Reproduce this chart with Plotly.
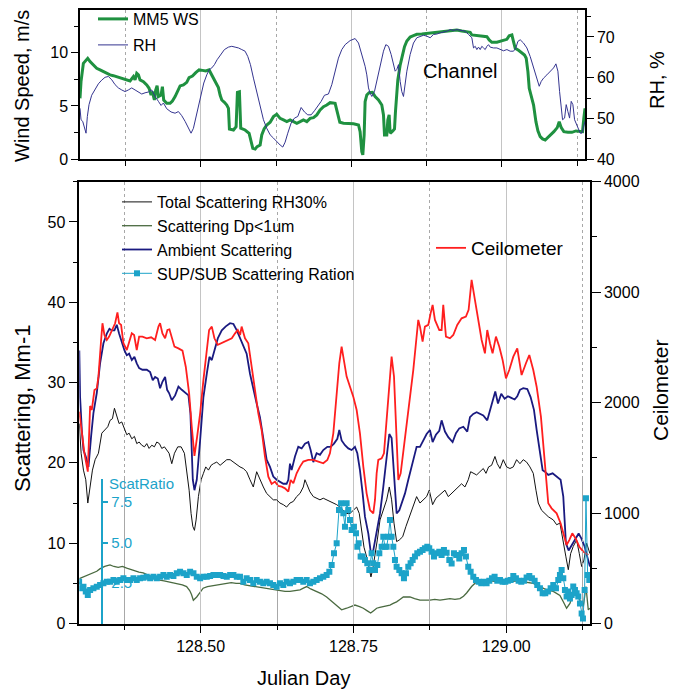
import plotly.graph_objects as go

# ---------------- data (Julian day, value) ----------------
ceil_pts = [
    (128.3014, 1917), (128.3055, 1751), (128.3098, 1540), (128.3153, 1374), (128.3191, 1969),
    (128.3218, 1932), (128.3262, 2113), (128.3300, 2128), (128.3327, 2234), (128.3371, 2566),
    (128.3393, 2717), (128.3425, 2611), (128.3464, 2566), (128.3502, 2596), (128.3545, 2656),
    (128.3600, 2717), (128.3638, 2816), (128.3665, 2717), (128.3698, 2702), (128.3736, 2536),
    (128.3791, 2475), (128.3829, 2551), (128.3873, 2626), (128.3911, 2611), (128.3954, 2475),
    (128.3993, 2596), (128.4047, 2596), (128.4118, 2581), (128.4189, 2590), (128.4254, 2566),
    (128.4309, 2687), (128.4336, 2717), (128.4374, 2626), (128.4418, 2581), (128.4456, 2656),
    (128.4489, 2662), (128.4527, 2581), (128.4571, 2505), (128.4636, 2490), (128.4702, 2469),
    (128.4756, 2324), (128.4811, 2083), (128.4854, 1781), (128.4898, 1516), (128.4942, 1691),
    (128.4991, 1902), (128.5045, 2204), (128.5100, 2445), (128.5138, 2656), (128.5182, 2687),
    (128.5225, 2581), (128.5280, 2521), (128.5345, 2536), (128.5400, 2551), (128.5465, 2566),
    (128.5509, 2581), (128.5563, 2626), (128.5607, 2656), (128.5645, 2611), (128.5670, 2687),
    (128.5725, 2581), (128.5779, 2535), (128.5834, 2324), (128.5888, 2113), (128.5943, 1902),
    (128.5997, 1751), (128.6052, 1510), (128.6107, 1329), (128.6161, 1263), (128.6216, 1284),
    (128.6270, 1245), (128.6325, 1238), (128.6379, 1223), (128.6434, 1193), (128.6472, 1299),
    (128.6516, 1269), (128.6570, 1359), (128.6625, 1420), (128.6679, 1465), (128.6761, 1480),
    (128.6843, 1480), (128.6925, 1465), (128.7006, 1450), (128.7072, 1480), (128.7115, 1540),
    (128.7170, 1721), (128.7225, 2083), (128.7268, 2355), (128.7306, 2505), (128.7345, 2355),
    (128.7388, 2234), (128.7443, 2143), (128.7497, 2053), (128.7552, 1932), (128.7606, 1721),
    (128.7661, 1420), (128.7715, 1178), (128.7770, 1027), (128.7824, 997), (128.7852, 1118),
    (128.7879, 1359), (128.7906, 1480), (128.7961, 1495), (128.7999, 1540), (128.8043, 1842),
    (128.8086, 2113), (128.8124, 2415), (128.8163, 2234), (128.8195, 1842), (128.8234, 1299),
    (128.8272, 1359), (128.8326, 1600), (128.8397, 1902), (128.8479, 2295), (128.8522, 2536),
    (128.8560, 2747), (128.8588, 2687), (128.8631, 2551), (128.8669, 2687), (128.8724, 2702),
    (128.8762, 2807), (128.8795, 2883), (128.8833, 2747), (128.8904, 2656), (128.8942, 2656),
    (128.8969, 2883), (128.9013, 2596), (128.9078, 2581), (128.9133, 2611), (128.9198, 2702),
    (128.9269, 2762), (128.9340, 2777), (128.9384, 2838), (128.9433, 3109), (128.9487, 2928),
    (128.9542, 2747), (128.9597, 2566), (128.9651, 2445), (128.9689, 2656), (128.9733, 2536),
    (128.9776, 2445), (128.9831, 2596), (128.9886, 2505), (128.9940, 2385), (128.9995, 2219),
    (129.0049, 2294), (129.0115, 2415), (129.0180, 2490), (129.0251, 2249), (129.0322, 2355),
    (129.0377, 2430), (129.0442, 2294), (129.0497, 2143), (129.0567, 1872), (129.0633, 1450),
    (129.0687, 1088), (129.0742, 1042), (129.0824, 997), (129.0889, 907), (129.0933, 816),
    (129.0987, 710), (129.1031, 755), (129.1080, 816), (129.1135, 770), (129.1195, 695),
    (129.1260, 650), (129.1342, 620),
]

amb_pts = [
    (128.3014, 34.0), (128.3027, 28.2), (128.3055, 24.1), (128.3082, 21.6), (128.3120, 20.8),
    (128.3164, 19.5), (128.3207, 23.3), (128.3245, 26.2), (128.3300, 28.7), (128.3354, 32.4),
    (128.3409, 34.9), (128.3464, 36.1), (128.3507, 36.7), (128.3545, 36.5), (128.3589, 36.5),
    (128.3627, 37.2), (128.3665, 36.1), (128.3709, 34.9), (128.3753, 34.0), (128.3791, 33.4),
    (128.3829, 33.6), (128.3873, 32.8), (128.3916, 33.2), (128.3954, 32.4), (128.3993, 31.8),
    (128.4047, 31.6), (128.4118, 31.6), (128.4173, 31.3), (128.4216, 30.3), (128.4254, 30.7),
    (128.4298, 30.5), (128.4336, 29.3), (128.4374, 30.1), (128.4418, 30.7), (128.4451, 29.1),
    (128.4483, 28.7), (128.4527, 27.8), (128.4582, 28.4), (128.4636, 29.5), (128.4691, 29.1),
    (128.4756, 28.7), (128.4800, 28.4), (128.4832, 26.2), (128.4854, 22.0), (128.4871, 17.9),
    (128.4898, 16.6), (128.4936, 17.9), (128.4991, 22.8), (128.5045, 28.2), (128.5100, 31.1),
    (128.5143, 33.2), (128.5182, 32.8), (128.5225, 34.0), (128.5280, 35.5), (128.5345, 36.5),
    (128.5411, 37.0), (128.5481, 37.4), (128.5536, 37.3), (128.5591, 36.5), (128.5643, 35.5),
    (128.5698, 34.5), (128.5752, 33.6), (128.5807, 31.1), (128.5861, 29.1), (128.5916, 27.4),
    (128.5970, 25.7), (128.6025, 22.8), (128.6079, 20.4), (128.6134, 19.5), (128.6188, 18.3),
    (128.6243, 17.9), (128.6297, 17.7), (128.6352, 17.4), (128.6406, 17.4), (128.6434, 17.9),
    (128.6461, 19.9), (128.6488, 19.1), (128.6543, 20.8), (128.6597, 22.0), (128.6652, 21.8),
    (128.6706, 22.4), (128.6761, 22.6), (128.6799, 21.6), (128.6843, 20.1), (128.6897, 21.2),
    (128.6952, 21.0), (128.7006, 21.6), (128.7072, 22.0), (128.7126, 22.0), (128.7181, 22.4),
    (128.7236, 23.0), (128.7268, 24.1), (128.7306, 22.8), (128.7361, 22.2), (128.7415, 21.8),
    (128.7470, 21.6), (128.7524, 22.0), (128.7563, 21.2), (128.7606, 19.1), (128.7650, 16.2),
    (128.7688, 13.3), (128.7743, 11.2), (128.7786, 8.7), (128.7824, 9.1), (128.7879, 11.2),
    (128.7934, 13.7), (128.7988, 17.0), (128.8043, 20.4), (128.8086, 23.6), (128.8124, 23.1),
    (128.8163, 19.1), (128.8206, 13.7), (128.8250, 14.1), (128.8288, 15.0), (128.8343, 16.2),
    (128.8397, 17.9), (128.8452, 19.5), (128.8533, 22.0), (128.8588, 22.0), (128.8642, 22.8),
    (128.8697, 23.6), (128.8751, 24.1), (128.8795, 22.6), (128.8849, 23.5), (128.8904, 24.0),
    (128.8942, 25.3), (128.8997, 23.9), (128.9051, 23.2), (128.9122, 22.6), (128.9177, 23.7),
    (128.9231, 24.3), (128.9297, 24.5), (128.9362, 23.9), (128.9406, 25.7), (128.9460, 26.1),
    (128.9515, 26.3), (128.9569, 26.1), (128.9624, 25.9), (128.9689, 25.3), (128.9733, 26.6),
    (128.9776, 27.6), (128.9820, 28.9), (128.9864, 27.4), (128.9918, 28.6), (128.9973, 28.0),
    (129.0027, 28.3), (129.0082, 28.1), (129.0137, 27.9), (129.0180, 28.3), (129.0224, 29.1),
    (129.0278, 29.3), (129.0344, 29.2), (129.0398, 28.2), (129.0453, 26.6), (129.0497, 24.1),
    (129.0551, 21.6), (129.0595, 19.1), (129.0633, 18.9), (129.0687, 18.5), (129.0758, 18.7),
    (129.0824, 18.3), (129.0889, 17.9), (129.0933, 15.8), (129.0976, 10.0), (129.1020, 9.1),
    (129.1075, 9.8), (129.1129, 10.4), (129.1184, 11.2), (129.1228, 10.6), (129.1282, 9.6),
    (129.1326, 8.3), (129.1369, 7.1),
]

tot_pts = [
    (128.3014, 24.9), (128.3044, 21.2), (128.3082, 19.1), (128.3120, 17.9), (128.3153, 15.0),
    (128.3191, 17.0), (128.3229, 19.1), (128.3273, 20.4), (128.3327, 21.2), (128.3382, 23.7),
    (128.3436, 24.1), (128.3480, 24.5), (128.3518, 25.3), (128.3556, 25.5), (128.3589, 26.8),
    (128.3627, 25.7), (128.3665, 24.9), (128.3709, 25.1), (128.3753, 24.3), (128.3791, 23.5),
    (128.3829, 23.7), (128.3873, 23.0), (128.3916, 23.3), (128.3954, 22.4), (128.3993, 22.6),
    (128.4036, 22.2), (128.4080, 22.0), (128.4118, 22.4), (128.4156, 21.8), (128.4200, 22.2),
    (128.4243, 22.0), (128.4282, 22.6), (128.4325, 22.4), (128.4363, 21.8), (128.4407, 22.0),
    (128.4445, 21.6), (128.4483, 21.2), (128.4527, 19.9), (128.4571, 21.2), (128.4625, 22.0),
    (128.4680, 22.0), (128.4734, 21.2), (128.4772, 19.1), (128.4811, 16.6), (128.4843, 13.7),
    (128.4871, 12.1), (128.4898, 11.6), (128.4925, 12.9), (128.4963, 15.8), (128.5007, 17.9),
    (128.5045, 18.7), (128.5083, 19.5), (128.5127, 19.1), (128.5171, 19.7), (128.5209, 19.9),
    (128.5263, 20.1), (128.5318, 19.7), (128.5373, 20.1), (128.5427, 20.4), (128.5482, 20.4),
    (128.5536, 20.1), (128.5591, 19.7), (128.5643, 19.5), (128.5698, 19.3), (128.5752, 18.9),
    (128.5807, 17.9), (128.5861, 17.0), (128.5916, 18.9), (128.5970, 17.9), (128.6025, 17.0),
    (128.6079, 16.2), (128.6134, 15.8), (128.6188, 15.4), (128.6243, 15.4), (128.6297, 15.0),
    (128.6352, 14.8), (128.6406, 14.5), (128.6461, 15.0), (128.6516, 15.2), (128.6570, 15.8),
    (128.6625, 16.2), (128.6679, 17.0), (128.6706, 17.9), (128.6734, 17.4), (128.6788, 16.4),
    (128.6843, 15.8), (128.6897, 15.6), (128.6952, 15.4), (128.7006, 15.6), (128.7061, 15.4),
    (128.7115, 15.2), (128.7170, 15.0), (128.7225, 14.8), (128.7279, 14.5), (128.7334, 14.1),
    (128.7388, 13.7), (128.7443, 13.7), (128.7497, 14.1), (128.7552, 14.5), (128.7595, 13.7),
    (128.7634, 11.6), (128.7672, 9.5), (128.7715, 8.3), (128.7759, 6.7), (128.7786, 5.8),
    (128.7814, 6.7), (128.7852, 8.3), (128.7890, 10.4), (128.7934, 12.9), (128.7988, 14.1),
    (128.8043, 15.4), (128.8086, 17.0), (128.8124, 15.4), (128.8163, 12.5), (128.8206, 10.2),
    (128.8250, 10.4), (128.8305, 10.8), (128.8359, 12.1), (128.8414, 13.3), (128.8468, 14.5),
    (128.8533, 15.8), (128.8588, 15.0), (128.8642, 15.4), (128.8697, 15.8), (128.8740, 16.6),
    (128.8795, 14.8), (128.8849, 15.6), (128.8904, 16.0), (128.8958, 16.4), (128.8997, 16.6),
    (128.9051, 15.8), (128.9106, 16.2), (128.9160, 16.6), (128.9215, 17.0), (128.9269, 17.4),
    (128.9324, 17.0), (128.9378, 17.9), (128.9417, 18.9), (128.9471, 18.7), (128.9515, 18.5),
    (128.9569, 18.9), (128.9624, 19.3), (128.9668, 18.7), (128.9711, 19.5), (128.9760, 19.7),
    (128.9815, 20.8), (128.9853, 19.9), (128.9897, 19.3), (128.9951, 20.4), (129.0006, 19.5),
    (129.0060, 19.3), (129.0115, 19.5), (129.0169, 20.4), (129.0224, 19.9), (129.0278, 20.4),
    (129.0333, 20.1), (129.0387, 19.5), (129.0442, 18.7), (129.0486, 16.6), (129.0524, 15.0),
    (129.0578, 14.1), (129.0633, 13.7), (129.0687, 13.3), (129.0769, 12.9), (129.0824, 12.3),
    (129.0878, 12.5), (129.0933, 10.4), (129.0976, 8.3), (129.1015, 6.7), (129.1053, 8.7),
    (129.1096, 9.6), (129.1151, 10.4), (129.1195, 8.7), (129.1233, 7.1), (129.1271, 7.9),
    (129.1315, 10.0), (129.1369, 8.7),
]

fine_pts = [
    (128.3014, 5.6), (128.3100, 5.9), (128.3180, 6.1), (128.3243, 6.3), (128.3300, 6.5),
    (128.3350, 6.8), (128.3430, 7.1), (128.3516, 7.3), (128.3580, 7.1), (128.3650, 7.0),
    (128.3720, 7.1), (128.3790, 6.9), (128.3860, 6.7), (128.3920, 6.6), (128.3990, 6.4),
    (128.4060, 6.3), (128.4130, 6.0), (128.4200, 5.8), (128.4270, 5.6), (128.4330, 5.4),
    (128.4400, 5.3), (128.4470, 5.2), (128.4540, 5.1), (128.4610, 5.0), (128.4700, 4.8),
    (128.4770, 4.6), (128.4820, 4.1), (128.4850, 3.6), (128.4880, 2.9), (128.4935, 3.3),
    (128.4990, 3.9), (128.5040, 4.4), (128.5110, 4.6), (128.5180, 4.7), (128.5250, 4.8),
    (128.5320, 4.9), (128.5400, 5.0), (128.5500, 5.1), (128.5580, 5.0), (128.5643, 5.0),
    (128.5720, 4.8), (128.5807, 4.7), (128.5890, 4.6), (128.5970, 4.5), (128.6080, 4.3),
    (128.6188, 4.2), (128.6300, 4.1), (128.6380, 4.0), (128.6461, 4.0), (128.6540, 4.1),
    (128.6625, 4.2), (128.6680, 4.4), (128.6734, 4.6), (128.6800, 4.3), (128.6897, 4.0),
    (128.6980, 3.7), (128.7061, 3.3), (128.7140, 2.8), (128.7225, 2.3), (128.7270, 2.0),
    (128.7306, 1.7), (128.7388, 1.9), (128.7460, 2.1), (128.7524, 2.3), (128.7600, 2.1),
    (128.7661, 1.9), (128.7720, 1.6), (128.7781, 1.3), (128.7830, 1.6), (128.7879, 1.9),
    (128.7930, 2.0), (128.7988, 2.1), (128.8040, 2.2), (128.8097, 2.3), (128.8150, 2.5),
    (128.8206, 2.7), (128.8260, 3.0), (128.8315, 3.3), (128.8370, 3.3), (128.8424, 3.3),
    (128.8500, 3.1), (128.8588, 2.9), (128.8670, 2.9), (128.8751, 2.9), (128.8830, 3.0),
    (128.8915, 2.9), (128.9000, 3.0), (128.9078, 3.1), (128.9160, 3.0), (128.9242, 3.1),
    (128.9300, 3.4), (128.9351, 3.8), (128.9433, 4.6), (128.9515, 5.2), (128.9600, 5.1),
    (128.9678, 5.2), (128.9760, 5.3), (128.9842, 5.2), (128.9950, 5.3), (129.0060, 5.2),
    (129.0170, 5.3), (129.0278, 5.2), (129.0360, 5.1), (129.0442, 5.0), (129.0551, 4.6),
    (129.0660, 4.2), (129.0769, 4.0), (129.0878, 3.5), (129.0933, 2.7), (129.0987, 1.9),
    (129.1042, 2.5), (129.1096, 3.8), (129.1151, 4.0), (129.1206, 2.9), (129.1260, 2.1),
    (129.1304, 4.6), (129.1342, 1.7), (129.1369, 1.9),
]

ratio_pts = [
    (128.3011, 2.58), (128.3044, 2.17), (128.3082, 2.27), (128.3120, 1.97), (128.3153, 1.76),
    (128.3191, 2.07), (128.3245, 2.17), (128.3300, 2.27), (128.3354, 2.38), (128.3409, 2.48),
    (128.3464, 2.58), (128.3518, 2.58), (128.3573, 2.69), (128.3627, 2.58), (128.3682, 2.69),
    (128.3736, 2.79), (128.3791, 2.69), (128.3845, 2.69), (128.3900, 2.79), (128.3954, 2.69),
    (128.4009, 2.79), (128.4063, 2.83), (128.4118, 2.89), (128.4173, 2.79), (128.4227, 2.89),
    (128.4282, 2.79), (128.4336, 2.89), (128.4391, 2.99), (128.4445, 2.89), (128.4500, 2.99),
    (128.4554, 2.93), (128.4609, 3.10), (128.4663, 3.20), (128.4718, 3.10), (128.4772, 2.99),
    (128.4827, 3.20), (128.4882, 3.10), (128.4936, 2.89), (128.4991, 2.79), (128.5045, 2.89),
    (128.5100, 2.89), (128.5154, 2.93), (128.5209, 2.99), (128.5263, 2.99), (128.5318, 2.99),
    (128.5373, 2.93), (128.5427, 2.89), (128.5482, 2.99), (128.5536, 2.99), (128.5591, 2.89),
    (128.5643, 2.89), (128.5698, 2.58), (128.5752, 2.79), (128.5807, 2.69), (128.5861, 2.48),
    (128.5916, 2.69), (128.5970, 2.58), (128.6025, 2.48), (128.6079, 2.58), (128.6134, 2.48),
    (128.6188, 2.38), (128.6243, 2.27), (128.6297, 2.48), (128.6352, 2.38), (128.6406, 2.58),
    (128.6461, 2.48), (128.6516, 2.58), (128.6570, 2.69), (128.6625, 2.69), (128.6679, 2.58),
    (128.6734, 2.69), (128.6788, 2.48), (128.6843, 2.58), (128.6897, 2.69), (128.6952, 2.79),
    (128.7006, 2.89), (128.7061, 2.99), (128.7105, 3.20), (128.7143, 3.61), (128.7181, 4.33),
    (128.7225, 4.95), (128.7263, 7.01), (128.7296, 7.42), (128.7334, 6.80), (128.7361, 5.98),
    (128.7388, 7.42), (128.7415, 7.01), (128.7443, 6.39), (128.7470, 5.77), (128.7508, 5.98),
    (128.7541, 5.57), (128.7563, 4.74), (128.7585, 4.95), (128.7617, 4.13), (128.7650, 4.13),
    (128.7688, 3.92), (128.7726, 3.72), (128.7759, 3.30), (128.7797, 4.33), (128.7824, 3.72),
    (128.7852, 3.30), (128.7890, 3.61), (128.7923, 4.33), (128.7961, 4.74), (128.7988, 5.36),
    (128.8015, 4.74), (128.8043, 4.74), (128.8070, 5.36), (128.8097, 6.39), (128.8124, 5.36),
    (128.8152, 4.74), (128.8179, 3.92), (128.8206, 3.51), (128.8250, 3.30), (128.8288, 3.10),
    (128.8326, 2.79), (128.8359, 3.10), (128.8397, 3.51), (128.8435, 3.72), (128.8468, 3.92),
    (128.8506, 4.13), (128.8544, 4.33), (128.8588, 4.43), (128.8631, 4.54), (128.8669, 4.64),
    (128.8708, 4.74), (128.8740, 4.64), (128.8778, 4.43), (128.8817, 4.13), (128.8860, 4.33),
    (128.8904, 4.43), (128.8942, 4.23), (128.8980, 4.54), (128.9024, 4.37), (128.9068, 3.92),
    (128.9106, 3.71), (128.9144, 4.33), (128.9188, 4.23), (128.9231, 4.02), (128.9269, 4.33),
    (128.9308, 4.54), (128.9340, 4.13), (128.9378, 3.51), (128.9417, 3.20), (128.9460, 2.89),
    (128.9504, 2.69), (128.9548, 2.58), (128.9591, 2.48), (128.9635, 2.58), (128.9678, 2.48),
    (128.9722, 2.64), (128.9766, 2.79), (128.9809, 2.89), (128.9853, 2.64), (128.9897, 2.69),
    (128.9940, 2.58), (128.9984, 2.58), (129.0027, 2.64), (129.0071, 2.69), (129.0115, 2.93),
    (129.0158, 2.79), (129.0202, 2.64), (129.0246, 2.58), (129.0289, 2.64), (129.0333, 2.84),
    (129.0377, 2.93), (129.0420, 2.79), (129.0464, 2.64), (129.0507, 2.38), (129.0551, 2.17),
    (129.0595, 1.86), (129.0638, 1.86), (129.0682, 1.97), (129.0726, 2.17), (129.0769, 2.38),
    (129.0813, 2.17), (129.0851, 2.69), (129.0878, 2.99), (129.0906, 3.30), (129.0933, 2.79),
    (129.0960, 2.07), (129.0987, 1.66), (129.1015, 1.97), (129.1042, 1.55), (129.1069, 1.76),
    (129.1096, 2.28), (129.1124, 2.07), (129.1151, 1.86), (129.1178, 1.66), (129.1206, 1.24),
    (129.1233, 0.62), (129.1255, 0.31), (129.1282, 2.07), (129.1304, 7.73), (129.1331, 2.99),
    (129.1358, 2.69),
]

ws_pts = [
    (128.2995, 5.72), (128.3012, 7.28), (128.3051, 9.00), (128.3090, 9.31), (128.3123, 9.47),
    (128.3162, 9.16), (128.3217, 8.84), (128.3272, 8.53), (128.3328, 8.38), (128.3383, 8.22),
    (128.3439, 8.06), (128.3494, 7.91), (128.3549, 7.84), (128.3605, 7.75), (128.3660, 7.66),
    (128.3715, 7.53), (128.3771, 7.44), (128.3826, 7.34), (128.3882, 7.75), (128.3909, 7.44),
    (128.3937, 8.06), (128.3965, 7.91), (128.3992, 7.44), (128.4048, 7.28), (128.4103, 6.97),
    (128.4142, 6.66), (128.4175, 6.03), (128.4197, 6.34), (128.4230, 5.56), (128.4252, 6.50),
    (128.4275, 6.91), (128.4297, 5.88), (128.4341, 6.03), (128.4363, 6.81), (128.4385, 5.56),
    (128.4435, 5.25), (128.4491, 5.25), (128.4529, 5.47), (128.4574, 5.88), (128.4618, 6.34),
    (128.4657, 6.88), (128.4712, 6.97), (128.4767, 7.22), (128.4806, 7.66), (128.4862, 7.81),
    (128.4917, 8.13), (128.4972, 8.38), (128.5028, 8.34), (128.5083, 8.28), (128.5138, 8.38),
    (128.5183, 7.91), (128.5227, 7.44), (128.5266, 6.97), (128.5293, 6.72), (128.5321, 6.03),
    (128.5349, 5.56), (128.5393, 5.34), (128.5432, 5.09), (128.5460, 4.78), (128.5476, 2.84),
    (128.5543, 2.75), (128.5587, 3.06), (128.5609, 6.28), (128.5642, 6.34), (128.5664, 2.91),
    (128.5736, 2.75), (128.5803, 2.44), (128.5836, 1.81), (128.5864, 1.03), (128.5903, 0.97),
    (128.5936, 1.19), (128.5986, 1.34), (128.6013, 2.28), (128.6052, 2.84), (128.6096, 3.22),
    (128.6152, 3.47), (128.6207, 4.00), (128.6262, 4.22), (128.6318, 3.84), (128.6373, 3.69),
    (128.6429, 3.53), (128.6484, 3.69), (128.6539, 3.53), (128.6595, 3.38), (128.6650, 3.53),
    (128.6705, 3.69), (128.6761, 3.53), (128.6816, 3.84), (128.6872, 3.91), (128.6927, 4.16),
    (128.6982, 4.63), (128.7038, 4.94), (128.7093, 5.09), (128.7148, 5.31), (128.7231, 5.25),
    (128.7275, 4.16), (128.7309, 3.47), (128.7370, 3.38), (128.7453, 3.38), (128.7536, 3.34),
    (128.7619, 3.22), (128.7646, 2.59), (128.7674, 0.72), (128.7691, 0.41), (128.7713, 2.28),
    (128.7729, 5.41), (128.7757, 6.03), (128.7796, 6.25), (128.7851, 6.28), (128.7895, 5.88),
    (128.7951, 5.56), (128.8006, 5.09), (128.8034, 4.16), (128.8051, 2.28), (128.8089, 2.28),
    (128.8106, 3.69), (128.8128, 4.16), (128.8145, 2.44), (128.8189, 2.66), (128.8217, 2.84),
    (128.8233, 4.47), (128.8250, 6.34), (128.8272, 7.44), (128.8311, 8.84), (128.8350, 9.78),
    (128.8383, 10.56), (128.8422, 11.09), (128.8477, 11.47), (128.8532, 11.59), (128.8588, 11.72),
    (128.8671, 11.75), (128.8754, 11.81), (128.8837, 11.88), (128.8920, 11.91), (128.9003, 11.97),
    (128.9086, 12.03), (128.9169, 12.13), (128.9252, 12.13), (128.9335, 12.03), (128.9418, 11.97),
    (128.9474, 11.91), (128.9501, 11.66), (128.9584, 11.63), (128.9667, 11.59), (128.9751, 11.50),
    (128.9789, 11.19), (128.9833, 10.97), (128.9917, 10.97), (129.0000, 11.09), (129.0083, 11.25),
    (129.0121, 11.59), (129.0166, 11.66), (129.0193, 11.03), (129.0221, 10.41), (129.0276, 10.22),
    (129.0332, 10.00), (129.0376, 9.78), (129.0404, 9.47), (129.0432, 8.22), (129.0454, 6.66),
    (129.0487, 5.88), (129.0526, 5.09), (129.0565, 3.53), (129.0598, 2.66), (129.0636, 2.13),
    (129.0675, 1.91), (129.0719, 1.81), (129.0764, 2.03), (129.0808, 2.28), (129.0863, 2.59),
    (129.0919, 2.97), (129.0952, 3.53), (129.0985, 2.97), (129.1029, 2.59), (129.1096, 2.53),
    (129.1162, 2.53), (129.1229, 2.66), (129.1295, 2.66), (129.1339, 2.59), (129.1360, 3.84),
    (129.1380, 4.78),
]

rh_pts = [
    (128.2995, 52.5), (128.3012, 49.7), (128.3040, 49.3), (128.3068, 47.5), (128.3095, 46.4),
    (128.3117, 50.5), (128.3145, 53.4), (128.3189, 55.7), (128.3245, 57.3), (128.3300, 58.5),
    (128.3355, 59.4), (128.3411, 60.1), (128.3466, 60.3), (128.3522, 59.5), (128.3577, 58.3),
    (128.3632, 57.5), (128.3688, 57.0), (128.3743, 56.6), (128.3798, 57.0), (128.3854, 57.5),
    (128.3909, 57.0), (128.3965, 56.5), (128.4020, 56.0), (128.4075, 56.3), (128.4131, 56.5),
    (128.4186, 57.0), (128.4241, 55.4), (128.4297, 54.2), (128.4341, 53.2), (128.4380, 53.8),
    (128.4435, 52.4), (128.4507, 51.6), (128.4574, 51.3), (128.4629, 51.7), (128.4684, 50.7),
    (128.4740, 49.3), (128.4795, 47.6), (128.4839, 46.4), (128.4878, 47.6), (128.4917, 50.1),
    (128.4961, 53.4), (128.5006, 56.5), (128.5050, 58.7), (128.5100, 60.7), (128.5138, 61.9),
    (128.5183, 62.4), (128.5227, 63.2), (128.5271, 64.4), (128.5327, 65.7), (128.5393, 66.9),
    (128.5460, 67.5), (128.5515, 67.7), (128.5570, 67.5), (128.5626, 67.3), (128.5681, 66.9),
    (128.5736, 66.5), (128.5781, 65.2), (128.5825, 63.2), (128.5875, 59.9), (128.5930, 56.6),
    (128.5986, 52.5), (128.6041, 49.7), (128.6096, 47.6), (128.6152, 46.0), (128.6207, 45.2),
    (128.6262, 44.3), (128.6318, 43.5), (128.6362, 43.0), (128.6401, 44.2), (128.6445, 46.4),
    (128.6501, 48.9), (128.6556, 50.1), (128.6611, 50.5), (128.6667, 52.7), (128.6722, 51.6),
    (128.6777, 50.9), (128.6833, 50.9), (128.6888, 51.9), (128.6944, 53.0), (128.6999, 54.2),
    (128.7054, 55.7), (128.7120, 56.0), (128.7176, 58.3), (128.7231, 61.6), (128.7286, 64.8),
    (128.7342, 66.9), (128.7397, 68.1), (128.7480, 69.1), (128.7563, 69.6), (128.7619, 68.5),
    (128.7674, 65.7), (128.7729, 62.8), (128.7757, 60.7), (128.7785, 57.5), (128.7813, 56.2),
    (128.7840, 55.4), (128.7884, 56.6), (128.7923, 59.1), (128.7979, 63.2), (128.8034, 66.5),
    (128.8073, 68.1), (128.8117, 67.7), (128.8161, 65.7), (128.8200, 63.2), (128.8228, 61.6),
    (128.8255, 62.0), (128.8283, 63.2), (128.8311, 59.1), (128.8338, 56.6), (128.8366, 55.4),
    (128.8394, 58.3), (128.8422, 61.6), (128.8477, 65.7), (128.8532, 68.5), (128.8588, 69.8),
    (128.8643, 70.2), (128.8698, 70.4), (128.8754, 70.2), (128.8809, 69.8), (128.8865, 70.6),
    (128.8920, 70.7), (128.8975, 71.0), (128.9031, 71.2), (128.9086, 71.4), (128.9141, 71.8),
    (128.9197, 71.6), (128.9252, 71.8), (128.9335, 71.6), (128.9391, 71.4), (128.9446, 70.6),
    (128.9501, 69.8), (128.9529, 67.3), (128.9557, 67.7), (128.9584, 66.9), (128.9612, 67.5),
    (128.9640, 66.9), (128.9667, 67.7), (128.9695, 67.3), (128.9723, 66.9), (128.9751, 67.7),
    (128.9778, 68.1), (128.9806, 67.5), (128.9861, 67.3), (128.9917, 67.3), (128.9972, 66.9),
    (129.0027, 66.6), (129.0083, 66.9), (129.0138, 66.5), (129.0193, 66.5), (129.0232, 67.3),
    (129.0265, 68.9), (129.0304, 69.3), (129.0359, 68.5), (129.0415, 67.3), (129.0470, 65.2),
    (129.0526, 62.4), (129.0581, 60.3), (129.0620, 57.9), (129.0653, 59.1), (129.0692, 59.9),
    (129.0747, 60.7), (129.0803, 61.6), (129.0858, 62.4), (129.0897, 63.4), (129.0930, 61.6),
    (129.0958, 56.6), (129.0985, 53.4), (129.1007, 49.7), (129.1041, 50.1), (129.1068, 53.4),
    (129.1096, 51.7), (129.1124, 50.1), (129.1151, 54.2), (129.1179, 53.4), (129.1207, 49.7),
    (129.1245, 48.4), (129.1273, 47.6), (129.1301, 46.4), (129.1328, 46.4), (129.1356, 48.4),
    (129.1380, 49.3),
]

x_tickvals = [128.50, 128.75, 129.00]
ratio_tickvals = [2.5, 5.0, 7.5]
ratio_ticktext = ["2.5", "5.0", "7.5"]


def xs(p):
    return [a for a, _ in p]


def ys(p):
    return [b for _, b in p]


W, H = 675, 694


def fx(px):
    return px / W


def fy(py):
    return 1 - py / H


FONT = "Liberation Sans, Arial, Helvetica, sans-serif"
CYAN = "#1ca3c9"

fig = go.Figure()

# ---- bottom panel ----
fig.add_trace(go.Scatter(x=xs(tot_pts), y=ys(tot_pts), name="Total Scattering RH30%",
                         mode="lines", line=dict(color="#111111", width=1),
                         xaxis="x", yaxis="y", legend="legend"))
fig.add_trace(go.Scatter(x=xs(fine_pts), y=ys(fine_pts), name="Scattering Dp<1um",
                         mode="lines", line=dict(color="#4a6a40", width=1.3),
                         xaxis="x", yaxis="y", legend="legend"))
fig.add_trace(go.Scatter(x=xs(amb_pts), y=ys(amb_pts), name="Ambient Scattering",
                         mode="lines", line=dict(color="#1a1a80", width=1.8),
                         xaxis="x", yaxis="y", legend="legend"))
fig.add_trace(go.Scatter(x=xs(ratio_pts), y=ys(ratio_pts), name="SUP/SUB Scattering Ration",
                         mode="lines+markers", line=dict(color=CYAN, width=1),
                         marker=dict(symbol="square", size=6, color=CYAN),
                         xaxis="x", yaxis="y4", legend="legend"))
fig.add_trace(go.Scatter(x=xs(ceil_pts), y=ys(ceil_pts), name="Ceilometer",
                         mode="lines", line=dict(color="#ff1f1f", width=1.8),
                         xaxis="x", yaxis="y2", legend="legend2"))

# ---- top panel ----
fig.add_trace(go.Scatter(x=xs(ws_pts), y=ys(ws_pts), name="MM5 WS",
                         mode="lines", line=dict(color="#1f9140", width=3),
                         xaxis="x2", yaxis="y3", legend="legend3"))
fig.add_trace(go.Scatter(x=xs(rh_pts), y=ys(rh_pts), name="RH",
                         mode="lines", line=dict(color="#34348f", width=1),
                         xaxis="x2", yaxis="y5", legend="legend4"))

axis_common = dict(showline=True, linecolor="black", linewidth=1.5, zeroline=False,
                   tickcolor="black", tickwidth=1.2, tickfont=dict(size=16, color="black"))

xgrid = dict(showgrid=True, gridcolor="#c4c4c4", gridwidth=1,
             tickmode="array", tickvals=x_tickvals,
             minor=dict(dtick=0.125, tick0=128.5, ticks="outside", ticklen=5,
                        tickcolor="black", showgrid=True, gridcolor="#a8a8a8",
                        griddash="dot", gridwidth=1))

leg_common = dict(xanchor="left", yanchor="top", bgcolor="rgba(0,0,0,0)")

fig.update_layout(
    width=W, height=H,
    margin=dict(l=0, r=0, t=0, b=0, autoexpand=False),
    paper_bgcolor="white", plot_bgcolor="rgba(0,0,0,0)",
    font=dict(family=FONT, color="black", size=16),
    xaxis=dict(domain=[fx(79.3), fx(590)], range=[128.3014, 129.137], anchor="y",
               mirror=True, ticks="outside", ticklen=8, tickformat=".2f",
               **xgrid, **axis_common),
    yaxis=dict(domain=[fy(623.5), fy(181.5)], range=[0, 55.04], anchor="x",
               ticks="outside", ticklen=9, dtick=10, showgrid=False,
               minor=dict(dtick=5, ticks="outside", ticklen=5, tickcolor="black"),
               **axis_common),
    yaxis2=dict(overlaying="y", side="right", anchor="x", range=[0, 4000],
                ticks="outside", ticklen=9, dtick=1000, showgrid=False,
                minor=dict(dtick=500, ticks="outside", ticklen=5, tickcolor="black"),
                **axis_common),
    yaxis4=dict(domain=[fy(623.5), fy(479)], range=[0, 8.92], anchor="free",
                position=fx(102.3), side="right", showline=True, linecolor=CYAN,
                linewidth=2, ticks="outside", ticklen=5, tickcolor=CYAN, tickwidth=1.5,
                tickmode="array", tickvals=ratio_tickvals, ticktext=ratio_ticktext,
                tickfont=dict(size=15, color=CYAN), showgrid=False, zeroline=False),
    xaxis2=dict(domain=[fx(80), fx(585)], range=[128.2995, 129.138], anchor="y3",
                mirror=True, ticks="outside", ticklen=6, showticklabels=False,
                **xgrid, **axis_common),
    yaxis3=dict(domain=[fy(159.3), fy(10)], range=[0, 14.0], anchor="x2",
                ticks="outside", ticklen=7, dtick=5, showgrid=False,
                minor=dict(dtick=2.5, ticks="outside", ticklen=4, tickcolor="black"),
                **axis_common),
    yaxis5=dict(overlaying="y3", side="right", anchor="x2", range=[40, 76.6],
                ticks="outside", ticklen=7, dtick=10, showgrid=False,
                minor=dict(dtick=5, ticks="outside", ticklen=4, tickcolor="black"),
                **axis_common),
    legend=dict(x=fx(117), y=fy(185), font=dict(size=16), tracegroupgap=0, **leg_common),
    legend2=dict(x=fx(431), y=fy(229), font=dict(size=19), **leg_common),
    legend3=dict(x=fx(93), y=fy(2), font=dict(size=16), **leg_common),
    legend4=dict(x=fx(93), y=fy(28), font=dict(size=16), **leg_common),
    showlegend=True,
)

ann = [
    dict(text="Scattering, Mm-1", x=fx(22), y=fy(408), textangle=-90, font=dict(size=22)),
    dict(text="Ceilometer", x=fx(660), y=fy(390), textangle=-90, font=dict(size=21)),
    dict(text="Wind Speed, m/s", x=fx(22), y=fy(86), textangle=-90, font=dict(size=20)),
    dict(text="RH, %", x=fx(657), y=fy(80), textangle=-90, font=dict(size=20)),
    dict(text="Julian Day", x=fx(303), y=fy(678), font=dict(size=20)),
    dict(text="Channel", x=fx(460.7), y=fy(71), font=dict(size=20)),
    dict(text="ScatRatio", x=fx(141.5), y=fy(483), font=dict(size=15, color=CYAN)),
]
for a in ann:
    fig.add_annotation(xref="paper", yref="paper", showarrow=False,
                       xanchor="center", yanchor="middle", **a)

fig.write_html("out.html")
